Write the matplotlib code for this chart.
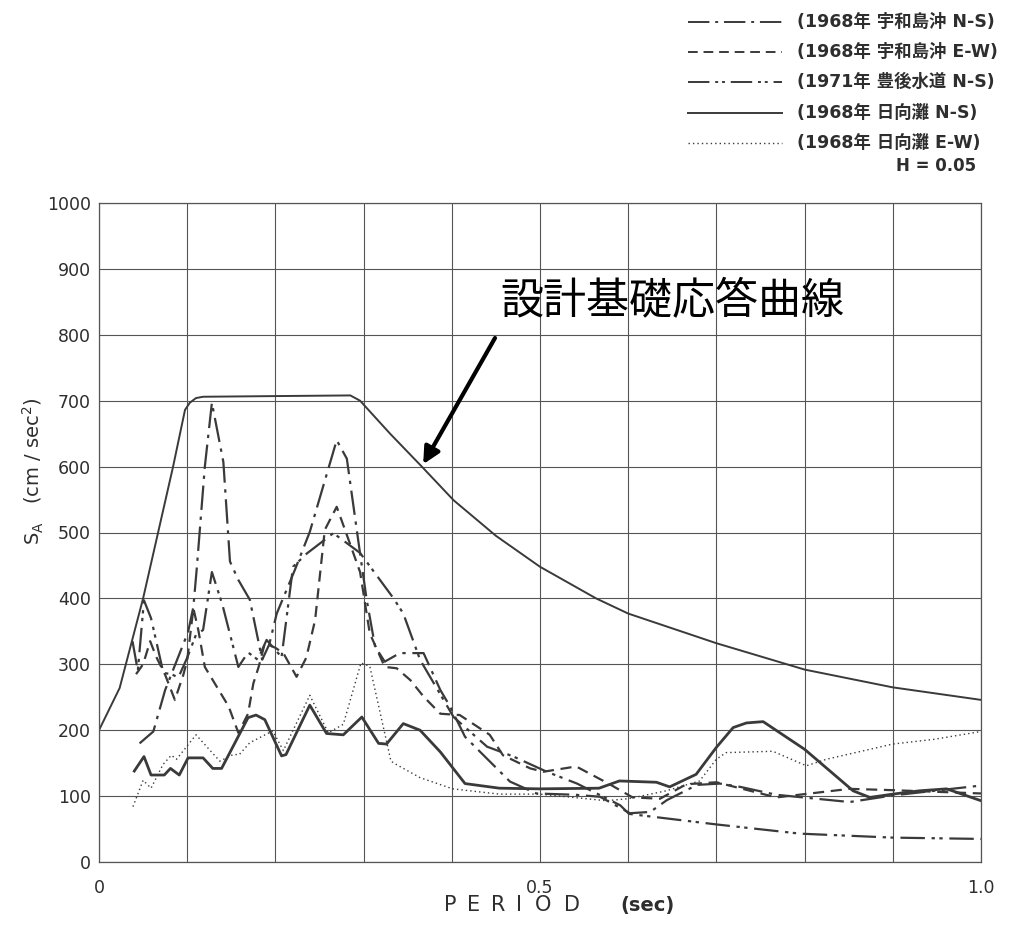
import matplotlib
matplotlib.use("Agg")
import matplotlib.pyplot as plt
from matplotlib.lines import Line2D

plt.rcParams['font.family'] = ['DejaVu Sans', 'Noto Sans CJK JP']

# ---------------- data ----------------
design_T = [0, 0.0234, 0.05, 0.084, 0.0975, 0.103, 0.11, 0.118, 0.2, 0.285, 0.296,
            0.33, 0.366, 0.402, 0.45, 0.5, 0.5636, 0.6, 0.7, 0.8, 0.9, 1.0]
design_V = [200, 264, 400, 600, 686, 697, 704, 706, 707, 708, 700,
            650, 600, 549, 495, 448, 400, 377, 332, 292, 265, 246]

hyuga_ns_T = [0.040, 0.051, 0.059, 0.074, 0.081, 0.091, 0.101, 0.118, 0.129, 0.139,
              0.169, 0.178, 0.188, 0.207, 0.212, 0.239, 0.258, 0.277, 0.298, 0.317,
              0.326, 0.345, 0.364, 0.387, 0.415, 0.454, 0.5, 0.567, 0.59, 0.632,
              0.647, 0.677, 0.7, 0.719, 0.734, 0.753, 0.8, 0.855, 0.874, 0.9,
              0.93, 0.961, 1.0]
hyuga_ns_V = [138, 160, 132, 132, 142, 132, 158, 158, 142, 142,
              219, 223, 216, 161, 163, 238, 195, 193, 220, 180,
              179, 210, 200, 167, 119, 112, 111, 112, 123, 121,
              114, 133, 174, 204, 211, 213, 171, 108, 98, 103,
              108, 111, 93]

hyuga_ew_T = [0.0385, 0.050, 0.059, 0.0726, 0.082, 0.088, 0.110, 0.137, 0.152, 0.159,
              0.171, 0.197, 0.209, 0.239, 0.260, 0.277, 0.297, 0.307, 0.331, 0.337,
              0.364, 0.401, 0.454, 0.5, 0.575, 0.6, 0.643, 0.681, 0.7, 0.711,
              0.764, 0.802, 0.825, 0.9, 0.946, 1.0]
hyuga_ew_V = [84, 124, 112, 148, 162, 156, 193, 153, 163, 163,
              181, 199, 169, 253, 196, 209, 302, 297, 153, 148,
              128, 111, 103, 103, 93, 96, 108, 123, 156, 166,
              168, 146, 156, 179, 186, 198]

uwa_ew_T = [0.042, 0.05, 0.058, 0.065, 0.075, 0.086, 0.0956, 0.1, 0.107, 0.1126,
            0.120, 0.147, 0.158, 0.169, 0.175, 0.181, 0.188, 0.2, 0.209, 0.224,
            0.235, 0.245, 0.256, 0.2695, 0.28, 0.296, 0.307, 0.324, 0.3375, 0.353,
            0.368, 0.387, 0.409, 0.443, 0.458, 0.489, 0.504, 0.541, 0.579, 0.605,
            0.636, 0.666, 0.7, 0.768, 0.8, 0.851, 0.9, 1.0]
uwa_ew_V = [285, 300, 335, 311, 284, 246, 284, 306, 385, 352,
            296, 236, 196, 225, 271, 296, 332, 325, 317, 281,
            310, 367, 504, 539, 500, 440, 347, 296, 294, 276,
            251, 225, 223, 193, 162, 142, 137, 145, 118, 98,
            96, 118, 121, 98, 103, 111, 109, 104]

uwa_ns_T = [0.046, 0.0616, 0.075, 0.101, 0.107, 0.111, 0.120, 0.128, 0.141, 0.1485,
            0.158, 0.171, 0.185, 0.193, 0.2015, 0.222, 0.239, 0.2695, 0.281, 0.296,
            0.3035, 0.313, 0.324, 0.341, 0.368, 0.387, 0.398, 0.415, 0.466, 0.496,
            0.54, 0.568, 0.602, 0.625, 0.644, 0.678, 0.704, 0.727, 0.768, 0.851,
            0.9, 1.0]
uwa_ns_V = [180, 198, 261, 349, 387, 448, 600, 697, 607, 456,
            428, 398, 307, 330, 377, 443, 501, 640, 612, 468,
            398, 327, 304, 317, 317, 261, 236, 190, 122, 104,
            102, 99, 74, 76, 94, 117, 119, 114, 102, 91,
            101, 116]

bungo_ns_T = [0.038, 0.044, 0.051, 0.059, 0.073, 0.082, 0.09, 0.1, 0.11, 0.118, 0.128,
              0.14, 0.158, 0.169, 0.18, 0.19, 0.207, 0.22, 0.2355, 0.2657, 0.296,
              0.334, 0.345, 0.364, 0.402, 0.44, 0.47, 0.5076, 0.542, 0.591, 0.601,
              0.7, 0.795, 0.9, 1.0]
bungo_ns_V = [335, 290, 397, 370, 287, 285, 280, 310, 345, 352, 440,
              390, 296, 318, 307, 337, 311, 448, 468, 499, 469,
              400, 377, 307, 220, 175, 160, 137, 119, 86, 73,
              57, 43, 37, 35]

legend_labels = ['(1968年 宇和島沖 N-S)', '(1968年 宇和島沖 E-W)', '(1971年 豊後水道 N-S)',
                 '(1968年 日向灘 N-S)', '(1968年 日向灘 E-W)']
damping_label = 'H = 0.05'
design_label = '設計基礎応答曲線'
xlabel_word = 'PERIOD'
xlabel_unit = '(sec)'
ylabel = 'S$_\\mathregular{A}$   (cm / sec$^2$)'

# ---------------- styles ----------------
C = '#3a3a3a'
TXT = '#2e2e2e'
ls_uwa_ns = (0, (11, 3, 1.5, 3))
ls_uwa_ew = (0, (5, 3))
ls_bungo = (0, (11, 3, 1.5, 2, 1.5, 3))
ls_hy_ns = '-'
ls_hy_ew = (0, (1, 2.2))
styles = [(ls_uwa_ns, 1.6), (ls_uwa_ew, 1.6), (ls_bungo, 1.6), (ls_hy_ns, 2.0), (ls_hy_ew, 1.0)]

W, H = 1014, 936
fig = plt.figure(figsize=(W / 100, H / 100), dpi=100)
ax = fig.add_axes([99 / W, 1 - 862 / H, 882 / W, 659 / H])

ax.plot(design_T, design_V, color=C, lw=1.4, ls='-')
for (T, V), (ls, lw) in zip([(uwa_ns_T, uwa_ns_V), (uwa_ew_T, uwa_ew_V), (bungo_ns_T, bungo_ns_V),
                              (hyuga_ns_T, hyuga_ns_V), (hyuga_ew_T, hyuga_ew_V)], styles):
    ax.plot(T, V, color=C, ls=ls, lw=lw)

ax.set_xlim(0, 1.0)
ax.set_ylim(0, 1000)
xt = [i / 10 for i in range(11)]
ax.set_xticks(xt)
ax.set_xticklabels(['0', '', '', '', '', '0.5', '', '', '', '', '1.0'])
ax.set_yticks(range(0, 1001, 100))
ax.tick_params(length=0, labelsize=12.5, labelcolor=TXT)
ax.tick_params(axis='x', pad=12)
ax.tick_params(axis='y', pad=6)
ax.grid(True, color='#555555', lw=0.8)
for s in ax.spines.values():
    s.set_color('#555555')
    s.set_linewidth(0.9)

# axis labels
fig.text(33 / W, 1 - 471 / H, ylabel, rotation=90,
         ha='center', va='center', fontsize=14, color=TXT)
letter_x = [450, 474, 498, 519, 543, 572]
for ch, px in zip(xlabel_word, letter_x):
    fig.text(px / W, 1 - 905 / H, ch, ha='center', va='center', fontsize=15, color=TXT)
fig.text(648 / W, 1 - 905 / H, xlabel_unit, ha='center', va='center', fontsize=14,
         color=TXT, fontweight='bold')

# legend (drawn in figure coordinates)
rows = [22, 52, 82, 113, 143]
for y, (ls, lw), lab in zip(rows, styles, legend_labels):
    fig.add_artist(Line2D([688 / W, 782 / W], [1 - y / H, 1 - y / H], color=C, ls=ls,
                          lw=min(lw, 1.4)))
    fig.text(797 / W, 1 - y / H, lab, ha='left', va='center', fontsize=12.5, color=TXT,
             family=['DejaVu Sans', 'Noto Sans CJK JP'], fontweight='bold')
fig.text(936 / W, 1 - 166 / H, damping_label, ha='center', va='center', fontsize=12,
         color=TXT, fontweight='bold')

# annotation
fig.text(672 / W, 1 - 302 / H, design_label, ha='center', va='center', fontsize=31,
         color='black', family=['Noto Sans CJK JP'])
ax.annotate('', xy=(design_T[12], design_V[12]), xycoords='data',
            xytext=(495 / W, 1 - 338 / H), textcoords='figure fraction',
            arrowprops=dict(arrowstyle='-|>,head_length=1.0,head_width=0.5', color='black',
                            lw=3, shrinkA=0, shrinkB=2))

fig.savefig('out.png', dpi=100, facecolor='white')
